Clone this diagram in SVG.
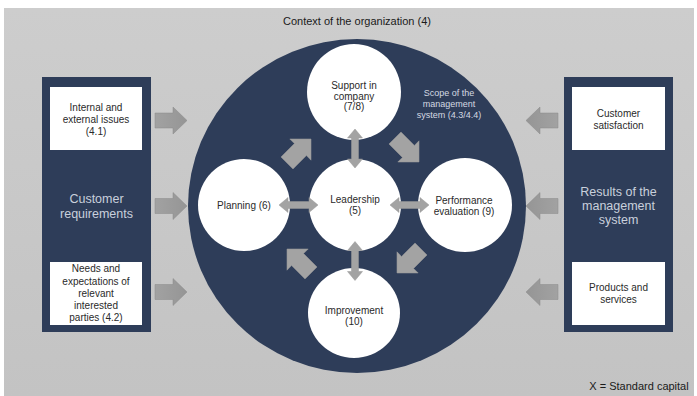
<svg xmlns="http://www.w3.org/2000/svg" width="697" height="396" viewBox="0 0 697 396">
<defs>
<linearGradient id="bg" x1="0" y1="0" x2="0" y2="1">
<stop offset="0" stop-color="#cdcdcd"/>
<stop offset="1" stop-color="#c3c3c3"/>
</linearGradient>
<linearGradient id="ag" x1="0" y1="0" x2="1" y2="0">
<stop offset="0" stop-color="#a2a2a2"/>
<stop offset="1" stop-color="#959595"/>
</linearGradient>
<path id="side" d="M0,-7.5 H18 V-13.5 L32,0 L18,13.5 V7.5 H0 Z"/>
<path id="diag" d="M-17,-8.5 H2 V-15 L17,0 L2,15 V8.5 H-17 Z"/>
<path id="dbl" d="M-19.5,0 L-10.5,-7.5 V-3.5 H10.5 V-7.5 L19.5,0 L10.5,7.5 V3.5 H-10.5 V7.5 Z"/>
</defs>
<style>
.panel{fill:#2e3d59}
.box{fill:#ffffff}
.circ{fill:#ffffff}
.t{font-family:"Liberation Sans",Arial,sans-serif;font-size:10px;fill:#2a2a2a;text-anchor:middle}
.lt{font-family:"Liberation Sans",Arial,sans-serif;font-size:12.5px;fill:#c9d0dc;text-anchor:middle}
.sc{font-family:"Liberation Sans",Arial,sans-serif;font-size:9px;fill:#d4d9e2;text-anchor:middle}
.arr{fill:url(#ag);stroke:#8a8a8a;stroke-width:0.5}
.blk{fill:#a3a3a3;stroke:#999;stroke-width:0.5}
</style>
<rect x="0" y="0" width="697" height="396" fill="#ffffff"/>
<rect x="4" y="8" width="690" height="388" fill="url(#bg)"/>
<text class="t" x="357" y="25" style="font-size:11px;fill:#1a1a1a">Context of the organization (4)</text>
<text class="t" x="639" y="390" style="font-size:11px;fill:#1a1a1a">X = Standard capital</text>

<g id="context">
<ellipse cx="357" cy="206" rx="169" ry="167" fill="#2e3d59"/>
<text class="sc" x="449" y="96">Scope of the</text>
<text class="sc" x="449" y="107">management</text>
<text class="sc" x="449" y="118">system  (4.3/4.4)</text>
</g>

<g id="left-panel">
<rect class="panel" x="42" y="77" width="109" height="255"/>
<text class="lt" x="96.5" y="203">Customer</text>
<text class="lt" x="96.5" y="218">requirements</text>
</g>
<g id="internal-issues">
<rect class="box" x="50" y="87" width="92" height="63"/>
<text class="t" x="96" y="111">Internal and</text>
<text class="t" x="96" y="123">external issues</text>
<text class="t" x="96" y="135">(4.1)</text>
</g>
<g id="interested-parties">
<rect class="box" x="50" y="262" width="92" height="63"/>
<text class="t" x="96" y="272">Needs and</text>
<text class="t" x="96" y="284.5">expectations of</text>
<text class="t" x="96" y="297">relevant</text>
<text class="t" x="96" y="309">interested</text>
<text class="t" x="96" y="321">parties (4.2)</text>
</g>

<g id="right-panel">
<rect class="panel" x="564" y="77" width="109" height="255"/>
<text class="lt" x="618.5" y="196">Results of the</text>
<text class="lt" x="618.5" y="210">management</text>
<text class="lt" x="618.5" y="224">system</text>
</g>
<g id="customer-satisfaction">
<rect class="box" x="572" y="87" width="93" height="63"/>
<text class="t" x="618.5" y="117">Customer</text>
<text class="t" x="618.5" y="129">satisfaction</text>
</g>
<g id="products-services">
<rect class="box" x="572" y="262" width="93" height="63"/>
<text class="t" x="618.5" y="291">Products and</text>
<text class="t" x="618.5" y="303">services</text>
</g>

<g id="support">
<ellipse class="circ" cx="354" cy="92" rx="47" ry="48"/>
<text class="t" x="354" y="89">Support in</text>
<text class="t" x="354" y="99.5">company</text>
<text class="t" x="354" y="110">(7/8)</text>
</g>
<g id="leadership">
<circle class="circ" cx="355" cy="205" r="46"/>
<text class="t" x="355" y="203">Leadership</text>
<text class="t" x="355" y="214">(5)</text>
</g>
<g id="planning">
<circle class="circ" cx="244" cy="205" r="46"/>
<text class="t" x="244" y="209">Planning (6)</text>
</g>
<g id="performance">
<circle class="circ" cx="465" cy="205" r="47"/>
<text class="t" x="464" y="204">Performance</text>
<text class="t" x="464" y="214.5">evaluation (9)</text>
</g>
<g id="improvement">
<ellipse class="circ" cx="354" cy="313" rx="46" ry="45"/>
<text class="t" x="354" y="314">Improvement</text>
<text class="t" x="354" y="325">(10)</text>
</g>

<g id="connectors">
<use href="#side" class="arr" transform="translate(155,120.5)"/>
<use href="#side" class="arr" transform="translate(155,206)"/>
<use href="#side" class="arr" transform="translate(155,292)"/>
<use href="#side" class="arr" transform="translate(558,120.5) scale(-1,1)"/>
<use href="#side" class="arr" transform="translate(558,206) scale(-1,1)"/>
<use href="#side" class="arr" transform="translate(558,292) scale(-1,1)"/>
<use href="#diag" class="blk" transform="translate(299,151) rotate(-45)"/>
<use href="#diag" class="blk" transform="translate(407,150) rotate(45)"/>
<use href="#diag" class="blk" transform="translate(409,261) rotate(135)"/>
<use href="#diag" class="blk" transform="translate(299,261) rotate(-135)"/>
<use href="#dbl" class="blk" transform="translate(298.5,205)"/>
<use href="#dbl" class="blk" transform="translate(409.5,205)"/>
<use href="#dbl" class="blk" transform="translate(355,148.5) rotate(90)"/>
<use href="#dbl" class="blk" transform="translate(355,261) rotate(90)"/>
</g>
</svg>
